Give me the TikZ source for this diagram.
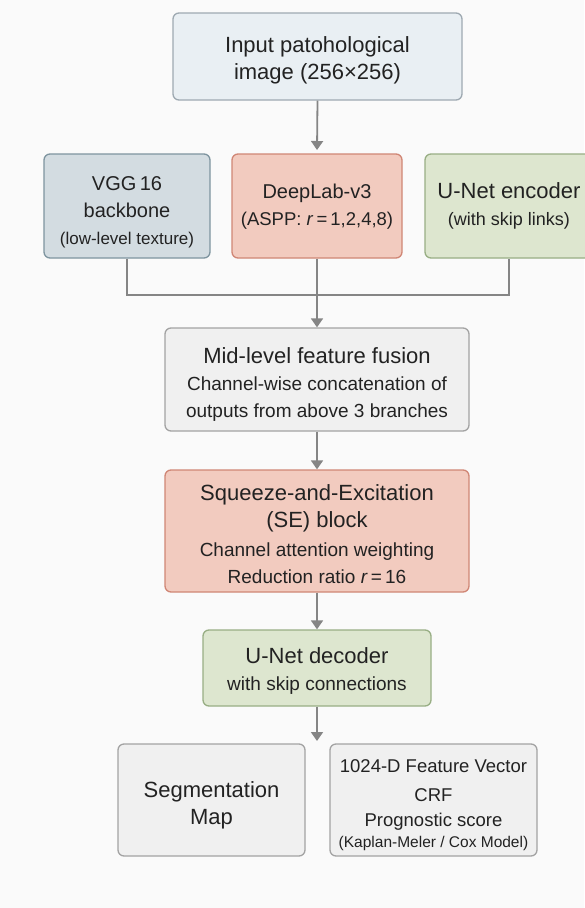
\documentclass[tikz,border=0pt]{standalone}
\usepackage{fontspec}
\setmainfont{Liberation Sans}
\usetikzlibrary{arrows.meta}
\definecolor{bg}{HTML}{FAFAFA}
\definecolor{txt}{HTML}{222222}
\definecolor{wire}{HTML}{858585}
\definecolor{blueF}{HTML}{E9EFF3}\definecolor{blueD}{HTML}{9EA9B1}
\definecolor{slateF}{HTML}{D3DCE1}\definecolor{slateD}{HTML}{7E949F}
\definecolor{redF}{HTML}{F2CBBF}\definecolor{redD}{HTML}{D08675}
\definecolor{greenF}{HTML}{DDE6CF}\definecolor{greenD}{HTML}{98AE84}
\definecolor{greyF}{HTML}{F0F0F0}\definecolor{greyD}{HTML}{A3A3A3}
\tikzset{
  box/.style={rounded corners=6pt, line width=1.3pt, text=txt, align=center, inner sep=0pt},
  wireline/.style={draw=wire, line width=1.8pt},
  flow/.style={wireline, -{Triangle[length=9pt,width=12pt]}},
  big/.style={font=\fontsize{22}{27}\selectfont},
  branch/.style={font=\fontsize{20}{27}\selectfont},
  % frame and label placed separately so the label can sit a little lower
  label shift/.style={yshift=-#1},
}
\newcommand{\midsz}{\fontsize{19}{24}\selectfont}
\newcommand{\subsz}{\fontsize{17}{27}\selectfont}
\begin{document}
\begin{tikzpicture}[x=1pt,y=-1pt]
\fill[bg] (0,0) rectangle (584,908);
\useasboundingbox (0,0) rectangle (584,908);

% frames
\node[box, fill=blueF,  draw=blueD,  minimum width=289pt, minimum height=87pt]  (in)   at (317.5,56.5) {};
\node[box, fill=slateF, draw=slateD, minimum width=166pt, minimum height=104pt] (vgg)  at (127,206) {};
\node[box, fill=redF,   draw=redD,   minimum width=170pt, minimum height=104pt] (dl)   at (317,206) {};
\node[box, fill=greenF, draw=greenD, minimum width=168pt, minimum height=104pt] (ue)   at (509,206) {};
\node[box, fill=greyF,  draw=greyD,  minimum width=304pt, minimum height=103pt] (fu)   at (317,379.5) {};
\node[box, fill=redF,   draw=redD,   minimum width=304pt, minimum height=122pt] (se)   at (317,531) {};
\node[box, fill=greenF, draw=greenD, minimum width=228pt, minimum height=76pt]  (dec)  at (317,668) {};
\node[box, fill=greyF,  draw=greyD,  minimum width=187pt, minimum height=112pt] (seg)  at (211.5,800) {};
\node[box, fill=greyF,  draw=greyD,  minimum width=207pt, minimum height=112pt] (feat) at (433.5,800) {};

% labels
\node[box, big, label shift=4pt] (inT) at (in)
  {Input patohological\\image (256×256)};
\node[box, branch, label shift=6pt] (vggT) at (vgg)
  {VGG\,16\\backbone\\\subsz(low-level texture)};
\node[box, branch, label shift=1pt] (dlT) at (dl)
  {DeepLab-v3\\\fontsize{18.5}{27}\selectfont(ASPP: \textit{r}\,=\,1,2,4,8)};
\node[box, font=\fontsize{22}{27}\selectfont] (ueT) at (ue)
  {U-Net encoder\\\fontsize{18}{29}\selectfont(with skip links)};
\node[box, big, label shift=5pt] (fuT) at (fu)
  {Mid-level feature fusion\\\midsz Channel-wise concatenation of\\\midsz outputs from above 3 branches};
\node[box, big, label shift=3pt] (seT) at (se)
  {Squeeze-and-Excitation\\(SE) block\\[2pt]\midsz Channel attention weighting\\\midsz Reduction ratio \textit{r}\,=\,16};
\node[box, big, label shift=3pt] (decT) at (dec)
  {U-Net decoder\\\midsz with skip connections};
\node[box, big, label shift=5pt] (segT) at (seg)
  {Segmentation\\Map};
\node[box, font=\fontsize{18.5}{26}\selectfont, label shift=5pt] (featT) at (feat)
  {1024-D Feature Vector\\[3pt]CRF\\[-1pt]Prognostic score\\[-5pt]\fontsize{15.5}{23}\selectfont (Kaplan-Meler / Cox Model)};

% connectors
\coordinate (jl) at (vgg.south |- 0,295);
\coordinate (jr) at (ue.south |- 0,295);
\draw[flow] (in.south) -- (317,150);
\draw[wireline] (vgg.south) -- (jl) -- (jr) -- (ue.south);
\draw[flow] (dl.south) -- (fu.north);
\draw[flow] (fu.south) -- (se.north);
\draw[flow] (se.south) -- (dec.north);
\draw[flow] (dec.south) -- (317,741);
\end{tikzpicture}
\end{document}
